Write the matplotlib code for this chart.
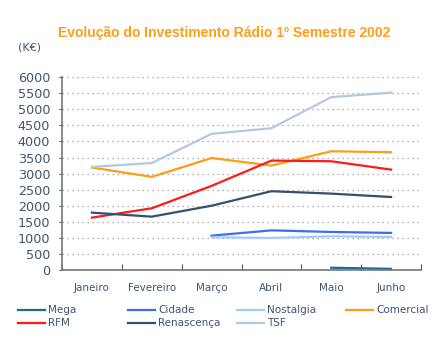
import matplotlib
matplotlib.use("Agg")
import matplotlib.pyplot as plt
from matplotlib.lines import Line2D
import numpy as np

months = ["Janeiro", "Fevereiro", "Março", "Abril", "Maio", "Junho"]
nan = np.nan
mega = [nan, nan, nan, nan, 80, 45]
cidade = [nan, nan, 1075, 1240, 1190, 1160]
nostalgia = [nan, nan, 1025, 1005, 1055, 1035]
comercial = [3190, 2900, 3485, 3250, 3695, 3665]
rfm = [1635, 1925, 2620, 3405, 3385, 3125]
renascenca = [1790, 1665, 2005, 2455, 2380, 2275]
tsf = [3210, 3330, 4235, 4410, 5375, 5515]

series = [
    ("Mega", mega, "#1a6a9a"),
    ("Cidade", cidade, "#3d6cf5"),
    ("Nostalgia", nostalgia, "#a3cdf7"),
    ("Comercial", comercial, "#ff9d14"),
    ("RFM", rfm, "#ff1a1a"),
    ("Renascença", renascenca, "#34506e"),
    ("TSF", tsf, "#b4c9df"),
]

text_color = "#3e5573"
plt.rcParams["font.family"] = ["DejaVu Sans"]

W, H = 447, 354
fig = plt.figure(figsize=(W/100, H/100), dpi=100)
ax = fig.add_axes([62/W, 1-270.3/H, (421-62)/W, (270.3-77)/H])

x = np.arange(len(months))
for name, vals, col in series:
    ax.plot(x, vals, color=col, lw=1.6, label=name)

ax.set_ylim(0, 6000)
ax.set_xlim(-0.5, 5.5)
ax.set_yticks(np.arange(0, 6001, 500))
ax.yaxis.grid(True, linestyle=(0, (1, 3)), color="#999999", lw=0.9)
ax.set_axisbelow(True)

ax.set_xticks(np.arange(-0.5, 6, 1))
ax.set_xticklabels([])
ax.set_xticks(x, minor=True)
ax.set_xticklabels(months, minor=True)
ax.tick_params(axis="x", which="major", direction="in", length=4, color="#555555")
ax.tick_params(axis="x", which="minor", length=0, pad=9, labelsize=7.5, labelcolor=text_color)
ax.tick_params(axis="y", direction="out", length=2.5, color="#555555", labelsize=9.2,
               labelcolor=text_color, pad=6)

for s in ["top", "right"]:
    ax.spines[s].set_visible(False)
for s in ["left", "bottom"]:
    ax.spines[s].set_color("#777777")
    ax.spines[s].set_linewidth(1.2)

fig.text(224/W, 1-33/H, "Evolução do Investimento Rádio 1º Semestre 2002",
         ha="center", va="center", color="#ff9d14", fontsize=10,
         fontweight="bold", family=["Liberation Sans"])
fig.text(18/W, 1-48/H, "(K€)", ha="left", va="center", color=text_color, fontsize=8)

# legend laid out in a 4-column grid as in the reference
col_x = [18, 128, 237, 346]
row_y = [310, 323]
for i, (name, vals, col) in enumerate(series):
    r, c = divmod(i, 4)
    x0 = col_x[c]
    y0 = 1 - row_y[r]/H
    fig.add_artist(Line2D([x0/W, (x0+27)/W], [y0, y0], color=col, lw=1.6,
                          transform=fig.transFigure))
    fig.text((x0+30)/W, y0, name, ha="left", va="center", color=text_color, fontsize=7.5)

fig.savefig("out.png", dpi=100)
